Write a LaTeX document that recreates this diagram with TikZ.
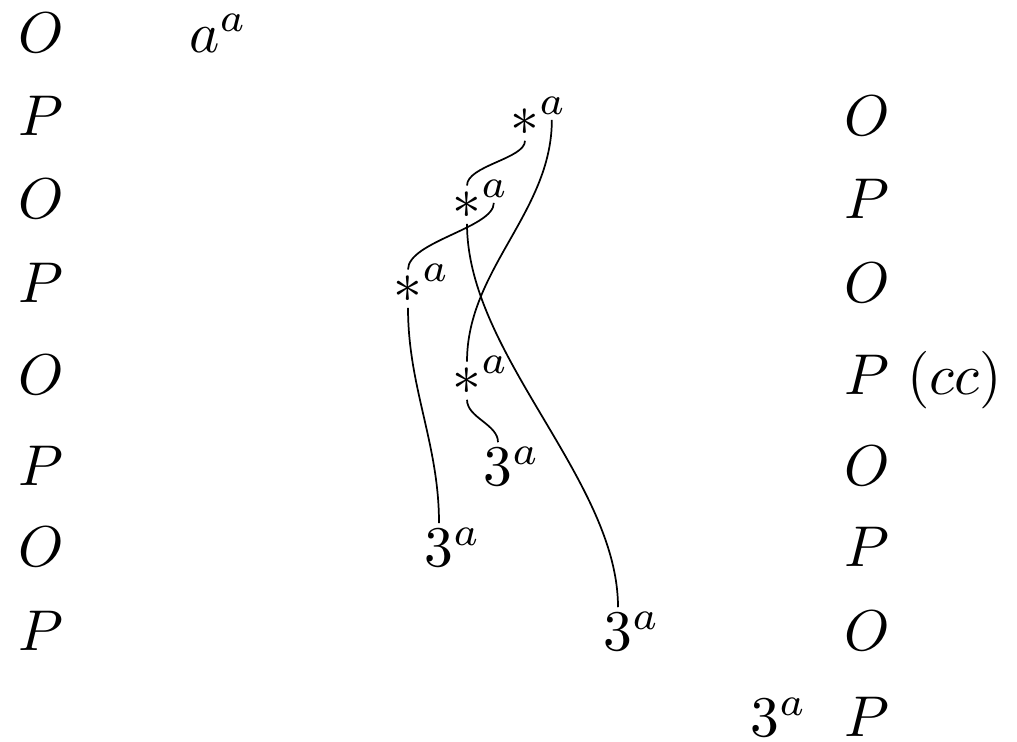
\documentclass[tikz,border=0pt]{standalone}
\begin{document}
\begin{tikzpicture}[x=0.174pt,y=-0.174pt,
  lbl/.style={inner sep=0, anchor=base west},
  sym/.style={inner sep=0, outer xsep=0, outer ysep=1pt, anchor=base},
  sup/.style={inner sep=0, outer xsep=0, outer ysep=1pt, anchor=base west},
  link/.style={line width=0.3pt}]
\useasboundingbox (0,0) rectangle (1017,741);
% left column
\node[lbl] (L0) at (17,52)  {$O$};
\node[lbl] (L1) at (17,135) {$P$};
\node[lbl] (L2) at (17,218) {$O$};
\node[lbl] (L3) at (17,302) {$P$};
\node[lbl] (L4) at (17,394) {$O$};
\node[lbl] (L5) at (17,485) {$P$};
\node[lbl] (L6) at (17,566) {$O$};
\node[lbl] (L7) at (17,650) {$P$};
\node[lbl] (aa) at (188,52) {$a^a$};
% right column
\node[lbl] (R1) at (843,135) {$O$};
\node[lbl] (R2) at (843,218) {$P$};
\node[lbl] (R3) at (843,302) {$O$};
\node[lbl] (R4) at (843,394) {$P$};
\node[lbl] (R5) at (843,485) {$O$};
\node[lbl] (R6) at (843,566) {$P$};
\node[lbl] (R7) at (843,650) {$O$};
\node[lbl] (R8) at (843,736) {$P$};
\node[lbl] (cc) at (906,394) {$(cc)$};
% stars
\node[sym] (s1) at (525,135) {$*$};
\node[sup] (s1a) at ([yshift=3.63pt]s1.base east) {$\scriptstyle a$};
\node[sym] (s2) at (467,218) {$*$};
\node[sup] (s2a) at ([yshift=3.63pt]s2.base east) {$\scriptstyle a$};
\node[sym] (s3) at (408,302) {$*$};
\node[sup] (s3a) at ([yshift=3.63pt]s3.base east) {$\scriptstyle a$};
\node[sym] (s4) at (467,394) {$*$};
\node[sup] (s4a) at ([yshift=3.63pt]s4.base east) {$\scriptstyle a$};
% threes
\node[sym] (t5) at (498,485) {$3$};
\node[sup] (t5a) at ([yshift=3.63pt]t5.base east) {$\scriptstyle a$};
\node[sym] (t6) at (439,566) {$3$};
\node[sup] (t6a) at ([yshift=3.63pt]t6.base east) {$\scriptstyle a$};
\node[sym] (t7) at (618,650) {$3$};
\node[sup] (t7a) at ([yshift=3.63pt]t7.base east) {$\scriptstyle a$};
\node[sym] (t8) at (765,736) {$3$};
\node[sup] (t8a) at ([yshift=3.63pt]t8.base east) {$\scriptstyle a$};
% connectors
\draw[link] (s1.south) .. controls +(0,18) and +(0,-20) .. (s2.north);
\draw[link] (s1a.south) .. controls +(0,92) and +(0,-92) .. (s4.north);
\draw[link] (s2.south) .. controls +(0,131) and +(0,-127) .. (t7.north);
\draw[link] (s2a.south) .. controls +(0,25) and +(0,-28) .. (s3.north);
\draw[link] (s3.south) .. controls +(0,80) and +(0,-80) .. (t6.north);
\draw[link] (s4.south) .. controls +(0,18) and +(0,-18) .. (t5.north);
\end{tikzpicture}
\end{document}
